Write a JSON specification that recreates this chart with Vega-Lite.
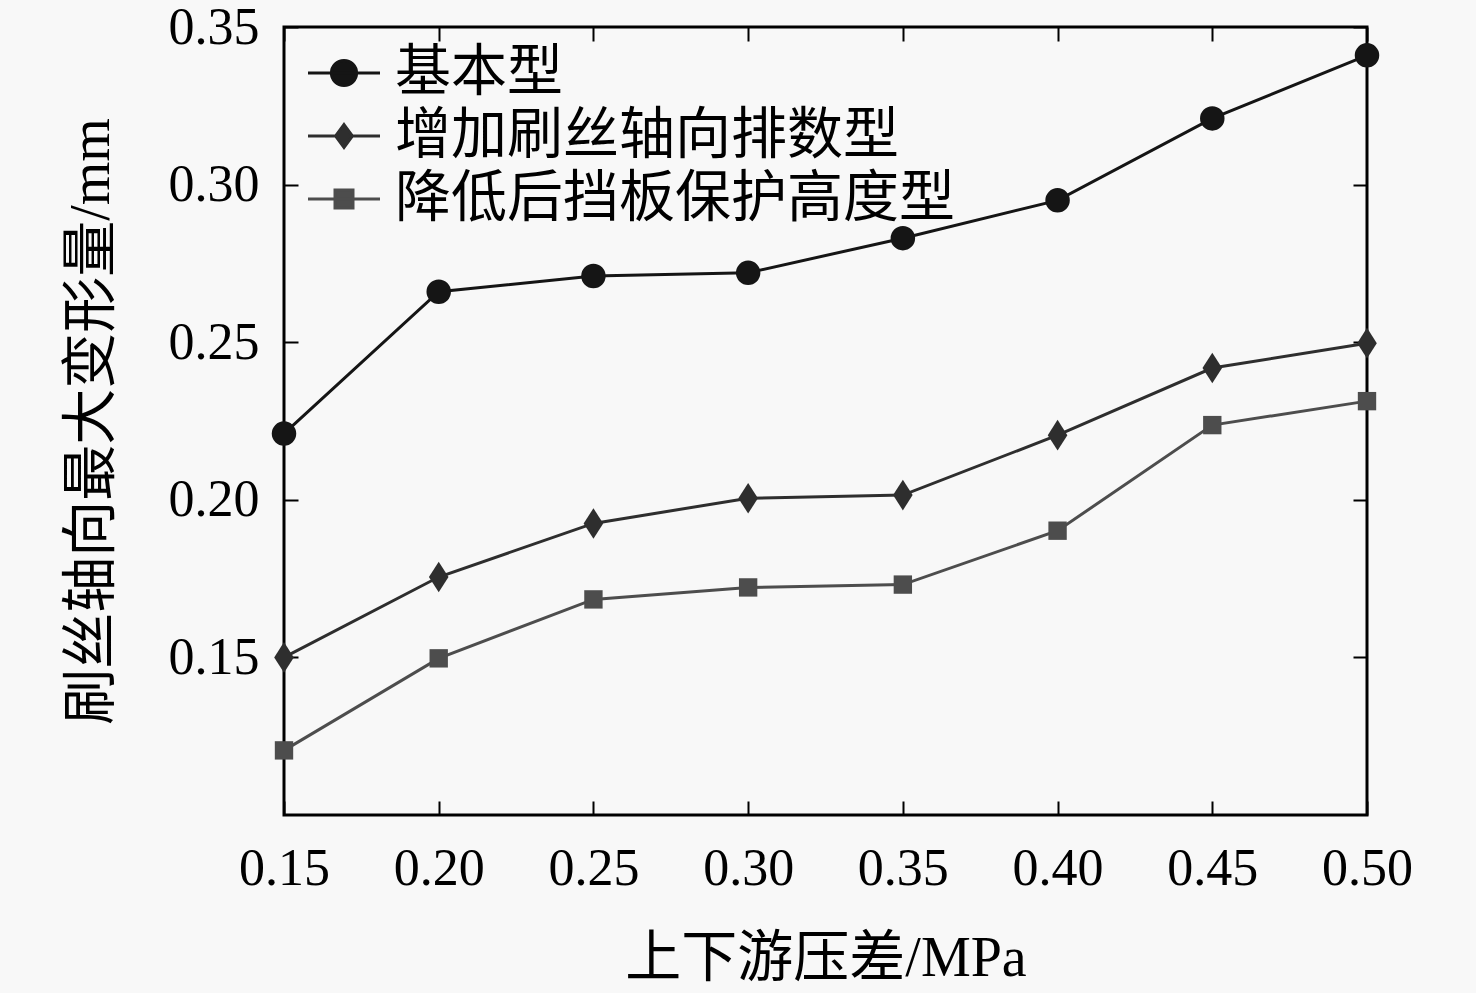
{
  "$schema": "https://vega.github.io/schema/vega-lite/v6.json",
  "description": "刷丝轴向最大变形量 vs 上下游压差, three seal designs",
  "width": 1083,
  "height": 788,
  "autosize": {"type": "none"},
  "padding": {"left": 284, "top": 27, "right": 109, "bottom": 178},
  "background": "#f8f8f8",
  "config": {
    "view": {"stroke": "#000", "strokeWidth": 3},
    "axis": {
      "domain": false,
      "grid": false,
      "tickColor": "#000",
      "tickWidth": 2,
      "tickSize": -14,
      "labelFlush": false,
      "labelFont": "Liberation Serif",
      "labelFontSize": 52,
      "labelColor": "#000",
      "titleFont": "Liberation Serif, Noto Sans CJK SC",
      "titleFontSize": 56,
      "titleFontWeight": "normal",
      "titleColor": "#000"
    }
  },
  "data": {
    "values": [
      {"series": "基本型", "p": 0.15, "d": 0.221},
      {"series": "基本型", "p": 0.20, "d": 0.266},
      {"series": "基本型", "p": 0.25, "d": 0.271},
      {"series": "基本型", "p": 0.30, "d": 0.272},
      {"series": "基本型", "p": 0.35, "d": 0.283},
      {"series": "基本型", "p": 0.40, "d": 0.295},
      {"series": "基本型", "p": 0.45, "d": 0.321},
      {"series": "基本型", "p": 0.50, "d": 0.341},
      {"series": "增加刷丝轴向排数型", "p": 0.15, "d": 0.150},
      {"series": "增加刷丝轴向排数型", "p": 0.20, "d": 0.1755},
      {"series": "增加刷丝轴向排数型", "p": 0.25, "d": 0.1925},
      {"series": "增加刷丝轴向排数型", "p": 0.30, "d": 0.2005},
      {"series": "增加刷丝轴向排数型", "p": 0.35, "d": 0.2015},
      {"series": "增加刷丝轴向排数型", "p": 0.40, "d": 0.2205},
      {"series": "增加刷丝轴向排数型", "p": 0.45, "d": 0.2418},
      {"series": "增加刷丝轴向排数型", "p": 0.50, "d": 0.2497},
      {"series": "降低后挡板保护高度型", "p": 0.15, "d": 0.1205},
      {"series": "降低后挡板保护高度型", "p": 0.20, "d": 0.1497},
      {"series": "降低后挡板保护高度型", "p": 0.25, "d": 0.1684},
      {"series": "降低后挡板保护高度型", "p": 0.30, "d": 0.1722},
      {"series": "降低后挡板保护高度型", "p": 0.35, "d": 0.1731},
      {"series": "降低后挡板保护高度型", "p": 0.40, "d": 0.1902},
      {"series": "降低后挡板保护高度型", "p": 0.45, "d": 0.2237},
      {"series": "降低后挡板保护高度型", "p": 0.50, "d": 0.2313}
    ]
  },
  "encoding": {
    "color": {
      "field": "series", "type": "nominal",
      "scale": {"domain": ["基本型", "增加刷丝轴向排数型", "降低后挡板保护高度型"], "range": ["#151515", "#2e2e2e", "#4d4d4d"]},
      "legend": {
        "title": null, "orient": "none", "legendX": 32, "legendY": 18, "padding": 0,
        "symbolSize": 576, "labelFont": "Liberation Serif, Noto Sans CJK SC", "labelFontSize": 56, "labelColor": "#000",
        "labelOffset": 23, "labelLimit": 0, "rowPadding": 7,
        "encode": {"symbols": {"update": {
          "shape": {"signal": "datum.value === '基本型' ? 'M-3,0H3M-1.05,0A1.05,1.05,0,1,0,1.05,0A1.05,1.05,0,1,0,-1.05,0Z' : datum.value === '增加刷丝轴向排数型' ? 'M-3,0H3M0,-0.95L0.7,0L0,0.95L-0.7,0Z' : 'M-3,0H3M-0.75,-0.75H0.75V0.75H-0.75Z'"},
          "fill": {"signal": "scale('color', datum.value)"},
          "stroke": {"signal": "scale('color', datum.value)"},
          "strokeWidth": {"value": 3},
          "opacity": {"value": 1}
        }}}
      }
    }
  },
  "layer": [
    {
      "mark": {"type": "line", "strokeWidth": 3},
      "encoding": {
        "x": {
          "field": "p", "type": "quantitative",
          "scale": {"domain": [0.15, 0.5], "nice": false, "zero": false},
          "axis": {"orient": "bottom", "values": [0.15, 0.2, 0.25, 0.3, 0.35, 0.4, 0.45, 0.5], "format": ".2f", "labelPadding": 42, "title": "上下游压差/MPa", "titlePadding": 37}
        },
        "y": {
          "field": "d", "type": "quantitative",
          "scale": {"domain": [0.1, 0.35], "nice": false, "zero": false},
          "axis": {"orient": "left", "values": [0.15, 0.2, 0.25, 0.3, 0.35], "format": ".2f", "labelPadding": 39, "title": "刷丝轴向最大变形量/mm", "titlePadding": 48}
        }
      }
    },
    {
      "transform": [{"filter": {"field": "series", "equal": "基本型"}}],
      "mark": {"type": "point", "shape": "circle", "filled": true, "opacity": 1, "size": 600},
      "encoding": {
        "x": {
          "field": "p", "type": "quantitative",
          "axis": {"orient": "top", "values": [0.15, 0.2, 0.25, 0.3, 0.35, 0.4, 0.45, 0.5], "labels": false, "title": null}
        },
        "y": {
          "field": "d", "type": "quantitative",
          "axis": {"orient": "right", "values": [0.15, 0.2, 0.25, 0.3, 0.35], "labels": false, "title": null}
        }
      }
    },
    {
      "transform": [{"filter": {"field": "series", "equal": "增加刷丝轴向排数型"}}],
      "mark": {"type": "point", "shape": "M0,-1.25L0.8,0L0,1.25L-0.8,0Z", "filled": true, "opacity": 1, "size": 600},
      "encoding": {
        "x": {"field": "p", "type": "quantitative", "axis": null},
        "y": {"field": "d", "type": "quantitative", "axis": null}
      }
    },
    {
      "transform": [{"filter": {"field": "series", "equal": "降低后挡板保护高度型"}}],
      "mark": {"type": "point", "shape": "M-0.75,-0.75H0.75V0.75H-0.75Z", "filled": true, "opacity": 1, "size": 600},
      "encoding": {
        "x": {"field": "p", "type": "quantitative", "axis": null},
        "y": {"field": "d", "type": "quantitative", "axis": null}
      }
    }
  ],
  "resolve": {"axis": {"x": "independent", "y": "independent"}}
}
